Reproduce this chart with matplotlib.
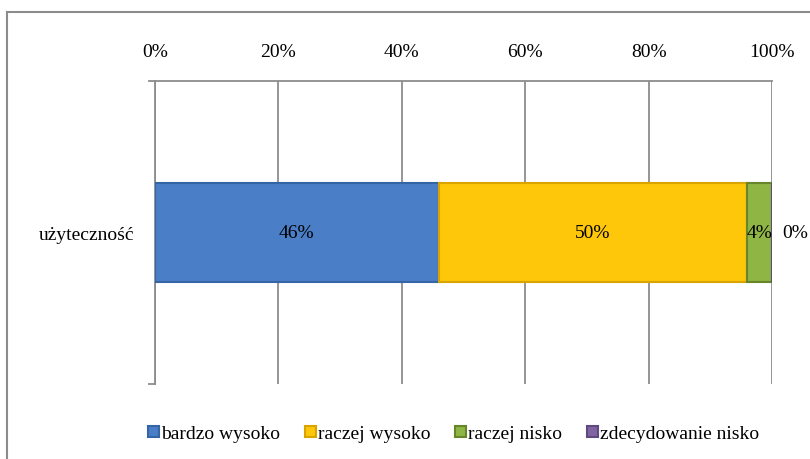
import numpy as np
import matplotlib
matplotlib.use('Agg')
import matplotlib.pyplot as plt
from matplotlib.lines import Line2D
from matplotlib.ticker import FuncFormatter

plt.rcParams['font.family'] = ['Liberation Serif', 'DejaVu Serif']

category = 'użyteczność'
series = ['bardzo wysoko', 'raczej wysoko', 'raczej nisko', 'zdecydowanie nisko']
values = [46, 50, 4, 0]
labels = ['46%', '50%', '4%', '0%']

colors = ['#4A7EC6', '#FFC709', '#8FB545', '#8064A2']
edges = ['#3465A4', '#D9A300', '#67862C', '#5E4A7E']

FS = 14
W, H = 810, 460
fig = plt.figure(figsize=(W / 100, H / 100), dpi=100)
ax = fig.add_axes([155 / W, 1 - 385 / H, (772 - 155) / W, (385 - 82) / H])

left = 0
for name, v, lab, c, ec in zip(series, values, labels, colors, edges):
    ax.barh(0, v, left=left, height=0.33, color=c, edgecolor=ec,
            linewidth=1.5, label=name, zorder=3)
    if v > 0:
        ax.text(left + v / 2, 0, lab, ha='center', va='center', fontsize=FS, zorder=4)
    else:
        ax.annotate(lab, (left + v, 0), xytext=(17, 0), textcoords='offset points',
                    ha='center', va='center', fontsize=FS)
    left += v

ax.set_xlim(0, 100)
ax.set_ylim(-0.5, 0.5)
ax.xaxis.tick_top()
ax.set_xticks(np.arange(0, 101, 20))
ax.xaxis.set_major_formatter(FuncFormatter(lambda x, _: f'{x:.0f}%'))
ax.tick_params(axis='x', length=0, pad=15, labelsize=FS)
ax.set_yticks([0])
ax.set_yticklabels([category])
ax.tick_params(axis='y', length=0, pad=15, labelsize=FS)
ax.grid(axis='x', color='#8C8C8C', linewidth=1.3, zorder=0)
for s in ['right', 'bottom']:
    ax.spines[s].set_visible(False)
for s in ['top', 'left']:
    ax.spines[s].set_color('#8C8C8C')
    ax.spines[s].set_linewidth(1.3)
# small category-axis tick marks at both ends
for yv in (-0.5, 0.5):
    ax.plot([-1, 0], [yv, yv], color='#8C8C8C', lw=1.3, clip_on=False, zorder=2)

fig.legend(loc='center', bbox_to_anchor=(0.56, 1 - 435 / H), ncol=4,
           frameon=False, fontsize=FS, handlelength=0.55, handleheight=0.55,
           handletextpad=0.1, columnspacing=1.3)

# chart frame
fig.add_artist(Line2D([7 / W, 1.0], [1 - 13 / H, 1 - 13 / H], color='#8C8C8C', lw=1.5))
fig.add_artist(Line2D([7 / W, 7 / W], [0.0, 1 - 13 / H], color='#8C8C8C', lw=1.5))

fig.savefig('out.png', dpi=100, facecolor='white')
